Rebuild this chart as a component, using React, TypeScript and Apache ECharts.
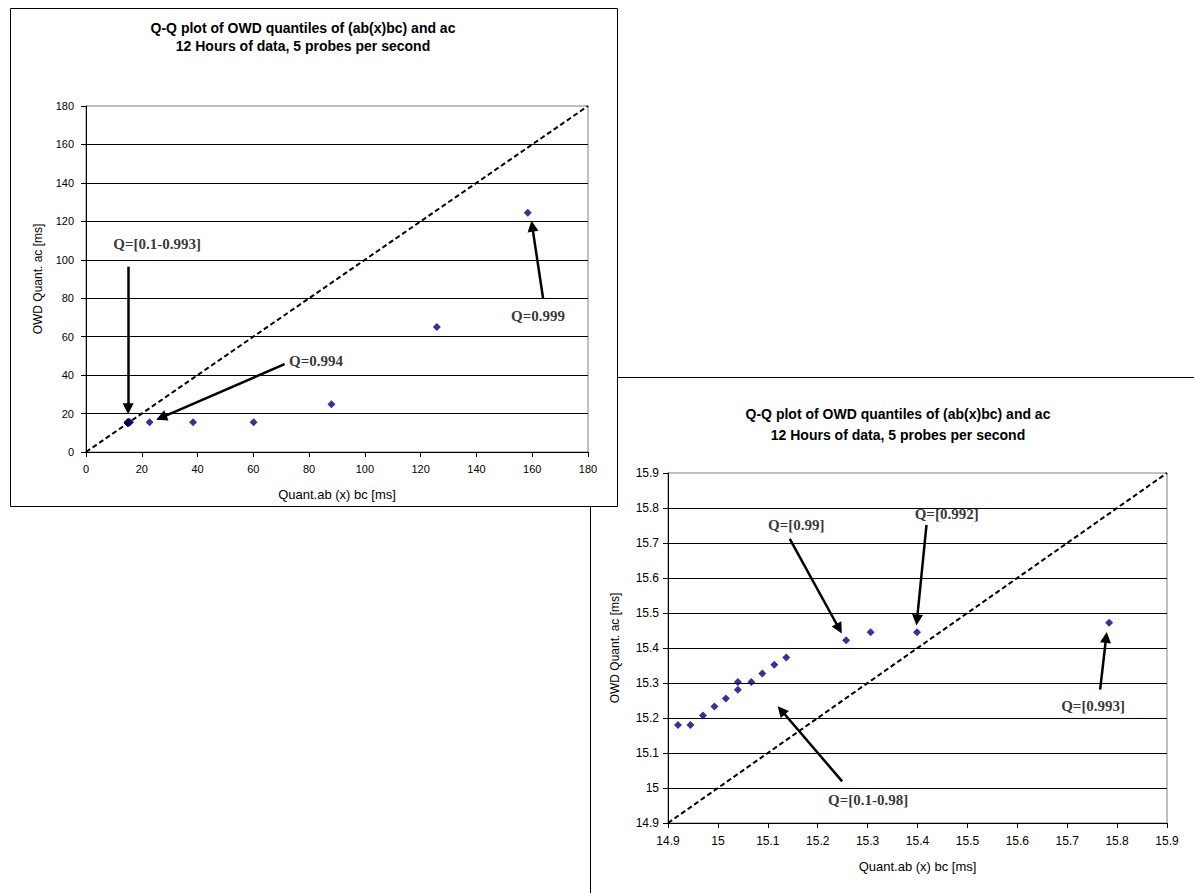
import React, { useEffect, useRef } from "react";
import * as echarts from "echarts";

// Quantiles Q = 0.1 ... 0.993 (zoomed chart, also the cluster in the full chart)
const zoomX = [14.92, 14.945, 14.97, 14.993, 15.016, 15.04, 15.04, 15.067, 15.089, 15.113, 15.137, 15.257, 15.306, 15.399, 15.784];
const zoomY = [15.18, 15.18, 15.207, 15.233, 15.256, 15.281, 15.303, 15.303, 15.327, 15.352, 15.373, 15.422, 15.445, 15.445, 15.472];
// Tail quantiles Q = 0.994 ... 0.999
const tailX = [22.8, 38.4, 60.1, 88.0, 125.8, 158.4];
const tailY = [15.5, 15.5, 15.5, 24.8, 65.0, 124.5];

// Axis ranges
const fullMin = 0, fullMax = 180, fullStep = 20;
const zoomMin = 14.9, zoomMax = 15.9, zoomStep = 0.1;

// y = x reference lines
const fullDiag = [[0, 0], [180, 180]];
const zoomDiag = [[14.9, 14.9], [15.9, 15.9]];

// Annotations (data coordinates)
const fullNoteText = ["Q=[0.1-0.993]", "Q=0.994", "Q=0.999"];
const fullNoteAt = [[25.5, 108.2], [82.5, 47.4], [162.1, 70.7]];
const fullArrows = [
  [[15.1, 96.4], [15.1, 22.5]],
  [[71.2, 45.7], [27.0, 17.9]],
  [[163.9, 79.9], [160.0, 117.5]],
];
const zoomNoteText = ["Q=[0.99]", "Q=[0.992]", "Q=[0.993]", "Q=[0.1-0.98]"];
const zoomNoteAt = [[15.157, 15.752], [15.4585, 15.784], [15.752, 15.233], [15.301, 14.967]];
const zoomArrows = [
  [[15.144, 15.712], [15.243, 15.455]],
  [[15.418, 15.752], [15.399, 15.48]],
  [[15.766, 15.281], [15.778, 15.43]],
  [[15.249, 15.019], [15.127, 15.222]],
];

const titleLine1 = "Q-Q plot of OWD quantiles of (ab(x)bc) and ac";
const titleLine2 = "12 Hours of data, 5 probes per second";
const xName = "Quant.ab (x) bc [ms]";
const yName = "OWD Quant. ac [ms]";

const SANS = '"Liberation Sans", Arial, sans-serif';
const SERIF = '"Liberation Serif", "Times New Roman", serif';

function axisCommon(fontSize: number) {
  return {
    type: "value" as const,
    axisLine: { show: true, onZero: false, lineStyle: { color: "#000", width: 1 } },
    axisTick: { show: true, length: 5, inside: false, lineStyle: { color: "#000" } },
    axisLabel: { color: "#000", fontSize, fontFamily: SANS },
    nameTextStyle: { color: "#000", fontSize: 12, fontFamily: SANS },
    nameLocation: "middle" as const,
  };
}

export default function App() {
  const ref = useRef<HTMLDivElement>(null);
  useEffect(() => {
    if (!ref.current) return;
    const chart = echarts.init(ref.current, null, { renderer: "svg" });
    const allPts = zoomX.map((x, i) => [x, zoomY[i]]).concat(tailX.map((x, i) => [x, tailY[i]]));
    const zoomPts = zoomX.map((x, i) => [x, zoomY[i]]);
    const arrowStyle = {
      silent: true,
      symbol: ["none", "triangle"],
      symbolSize: 11,
      lineStyle: { color: "#000", width: 2.5, type: "solid" },
      itemStyle: { color: "#000" },
      label: { show: false },
      emphasis: { disabled: true },
    };
    const noteLabel = {
      show: true,
      position: "inside",
      formatter: "{b}",
      color: "#000",
      textBorderWidth: 0,
      textBorderColor: "rgba(0,0,0,0)",
      fontFamily: SERIF,
      fontWeight: "bold",
      fontSize: 15,
    };
    const titleFont = `bold 14px ${SANS}`;
    const option: any = {
      animation: false,
      backgroundColor: "#fff",
      graphic: [
        { type: "rect", z: -20, shape: { x: 590.5, y: 377.5, width: 800, height: 800 }, style: { fill: "#fff", stroke: "#000", lineWidth: 1 } },
        { type: "rect", z: -19, shape: { x: 10.5, y: 8.5, width: 607, height: 498 }, style: { fill: "#fff", stroke: "#000", lineWidth: 1 } },
        { type: "text", z: 5, x: 303, y: 28, style: { text: titleLine1, font: titleFont, fill: "#000", textAlign: "center", textVerticalAlign: "middle" } },
        { type: "text", z: 5, x: 303, y: 46, style: { text: titleLine2, font: titleFont, fill: "#000", textAlign: "center", textVerticalAlign: "middle" } },
        { type: "text", z: 5, x: 898, y: 414, style: { text: titleLine1, font: titleFont, fill: "#000", textAlign: "center", textVerticalAlign: "middle" } },
        { type: "text", z: 5, x: 898, y: 435, style: { text: titleLine2, font: titleFont, fill: "#000", textAlign: "center", textVerticalAlign: "middle" } },
      ],
      grid: [
        { left: 86, top: 106, width: 502, height: 346, show: true, borderColor: "#808080", borderWidth: 1, backgroundColor: "transparent" },
        { left: 668, top: 473, width: 499, height: 350, show: true, borderColor: "#808080", borderWidth: 1, backgroundColor: "transparent" },
      ],
      xAxis: [
        { ...axisCommon(11), gridIndex: 0, min: fullMin, max: fullMax, interval: fullStep, splitLine: { show: false }, axisLabel: { color: "#000", fontSize: 11, fontFamily: SANS, margin: 11 }, name: xName, nameGap: 36, nameTextStyle: { color: "#000", fontSize: 13, fontFamily: SANS } },
        { ...axisCommon(12), gridIndex: 1, min: zoomMin, max: zoomMax, interval: zoomStep, splitLine: { show: false }, axisLabel: { color: "#000", fontSize: 12, fontFamily: SANS, margin: 12 }, name: xName, nameGap: 37, nameTextStyle: { color: "#000", fontSize: 13, fontFamily: SANS } },
      ],
      yAxis: [
        { ...axisCommon(11), gridIndex: 0, min: fullMin, max: fullMax, interval: fullStep, splitLine: { show: true, showMaxLine: false, lineStyle: { color: "#000", width: 1 } }, axisLabel: { color: "#000", fontSize: 11, fontFamily: SANS, margin: 12 }, name: yName, nameGap: 42 },
        { ...axisCommon(12), gridIndex: 1, min: zoomMin, max: zoomMax, interval: zoomStep, splitLine: { show: true, showMaxLine: false, lineStyle: { color: "#000", width: 1 } }, axisLabel: { color: "#000", fontSize: 12, fontFamily: SANS, margin: 9 }, name: yName, nameGap: 47 },
      ],
      series: [
        {
          type: "line", xAxisIndex: 0, yAxisIndex: 0, data: fullDiag, symbol: "none", silent: true,
          lineStyle: { color: "#000", width: 2, type: [5, 3] },
          markLine: { ...arrowStyle, data: fullArrows.map(([a, b]) => [{ coord: a }, { coord: b }]) },
        },
        {
          type: "scatter", xAxisIndex: 0, yAxisIndex: 0, data: allPts, symbol: "diamond", symbolSize: 8,
          itemStyle: { color: "#000080" }, silent: true,
        },
        {
          type: "scatter", xAxisIndex: 0, yAxisIndex: 0, symbol: "circle", symbolSize: 1, silent: true,
          itemStyle: { color: "rgba(0,0,0,0)" },
          data: fullNoteText.map((t, i) => ({ name: t, value: fullNoteAt[i] })), label: noteLabel,
        },
        {
          type: "line", xAxisIndex: 1, yAxisIndex: 1, data: zoomDiag, symbol: "none", silent: true,
          lineStyle: { color: "#000", width: 2, type: [5, 3] },
          markLine: { ...arrowStyle, data: zoomArrows.map(([a, b]) => [{ coord: a }, { coord: b }]) },
        },
        {
          type: "scatter", xAxisIndex: 1, yAxisIndex: 1, data: zoomPts, symbol: "diamond", symbolSize: 8,
          itemStyle: { color: "#000080" }, silent: true,
        },
        {
          type: "scatter", xAxisIndex: 1, yAxisIndex: 1, symbol: "circle", symbolSize: 1, silent: true,
          itemStyle: { color: "rgba(0,0,0,0)" },
          data: zoomNoteText.map((t, i) => ({ name: t, value: zoomNoteAt[i] })), label: noteLabel,
        },
      ],
    };
    chart.setOption(option);
    return () => chart.dispose();
  }, []);
  return <div ref={ref} style={{ position: "absolute", left: 0, top: 0, width: 1194, height: 893 }} />;
}
